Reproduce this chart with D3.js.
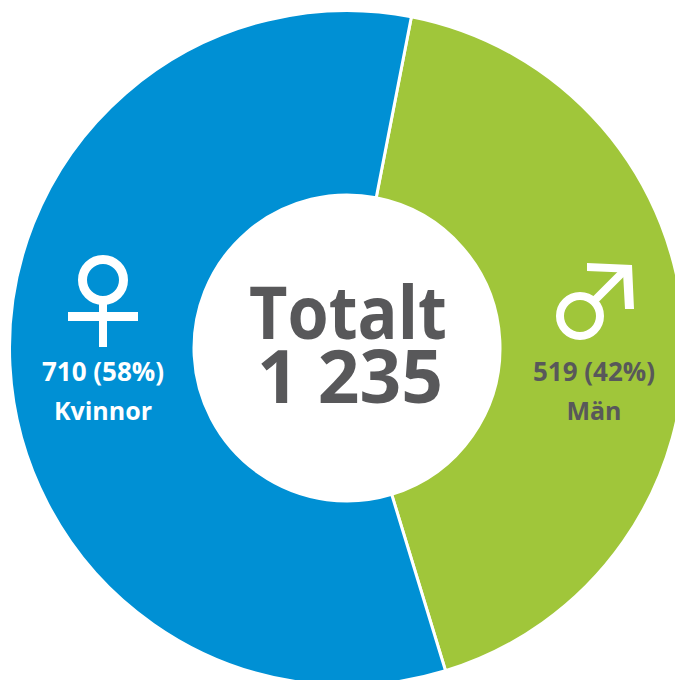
<!DOCTYPE html>
<html lang="sv">

<head>
    <meta charset="UTF-8">
    <title>Totalt 1 235</title>
    <style>
        html, body { margin: 0; padding: 0; background: #fff; }
        svg { display: block; }
        text { font-family: "Open Sans", "Noto Sans", sans-serif; font-weight: 700; text-anchor: middle; }
    </style>
</head>

<body>
    <script src="https://d3js.org/d3.v7.min.js"></script>
    <script>
        const categories = ['Män', 'Kvinnor'];
        const values = [519, 710];
        const shares = ['42%', '58%'];
        const centerLines = ['Totalt', '1 235'];

        const colors = ['#a0c63a', '#0090d4'];
        const TEXT_DARK = '#58585a';

        const WIDTH = 675;
        const HEIGHT = 680;
        const CX = 347;
        const CY = 348;
        const R_OUTER = 337.5;
        const R_INNER = 153;
        const START = 11 * Math.PI / 180;

        const svg = d3.select('body')
            .append('svg')
            .attr('width', WIDTH)
            .attr('height', HEIGHT);

        const pie = d3.pie()
            .sort(null)
            .startAngle(START)
            .endAngle(START + 2 * Math.PI);

        const arc = d3.arc()
            .innerRadius(R_INNER)
            .outerRadius(R_OUTER);

        svg.append('g')
            .attr('transform', `translate(${CX}, ${CY})`)
            .selectAll('path')
            .data(pie(values))
            .enter()
            .append('path')
            .attr('d', arc)
            .attr('fill', (d, i) => colors[i])
            .attr('stroke', '#fff')
            .attr('stroke-width', 3);

        // Center text, one element with two lines
        const center = svg.append('text')
            .attr('font-size', 73)
            .attr('fill', TEXT_DARK);
        center.append('tspan')
            .attr('x', 348).attr('y', 339)
            .attr('textLength', 198)
            .attr('lengthAdjust', 'spacingAndGlyphs')
            .text(centerLines[0]);
        center.append('tspan')
            .attr('x', 350).attr('y', 403)
            .text(centerLines[1]);

        // Value labels
        const labels = [
            { x: 594, fill: TEXT_DARK },
            { x: 103, fill: '#fff' }
        ];
        labels.forEach((l, i) => {
            svg.append('text')
                .attr('x', l.x).attr('y', 381)
                .attr('font-size', 26)
                .attr('fill', l.fill)
                .text(`${values[i]} (${shares[i]})`);
            svg.append('text')
                .attr('x', l.x).attr('y', 420)
                .attr('font-size', 25)
                .attr('fill', l.fill)
                .text(categories[i]);
        });

        // Female symbol
        const female = svg.append('g').attr('fill', 'none').attr('stroke', '#fff');
        female.append('circle').attr('cx', 103).attr('cy', 280).attr('r', 20.5).attr('stroke-width', 9);
        female.append('path').attr('d', 'M103 303V347').attr('stroke-width', 8);
        female.append('path').attr('d', 'M68 316.5H138').attr('stroke-width', 9);

        // Male symbol
        const male = svg.append('g').attr('fill', 'none').attr('stroke', '#fff');
        male.append('circle').attr('cx', 580).attr('cy', 316).attr('r', 20).attr('stroke-width', 8);
        male.append('path').attr('d', 'M595 300L627 268').attr('stroke-width', 8);
        male.append('path')
            .attr('d', 'M587 263L632 265L634 309L625 309L623 272.5L587 271Z')
            .attr('fill', '#fff')
            .attr('stroke', 'none');
    </script>
</body>

</html>
